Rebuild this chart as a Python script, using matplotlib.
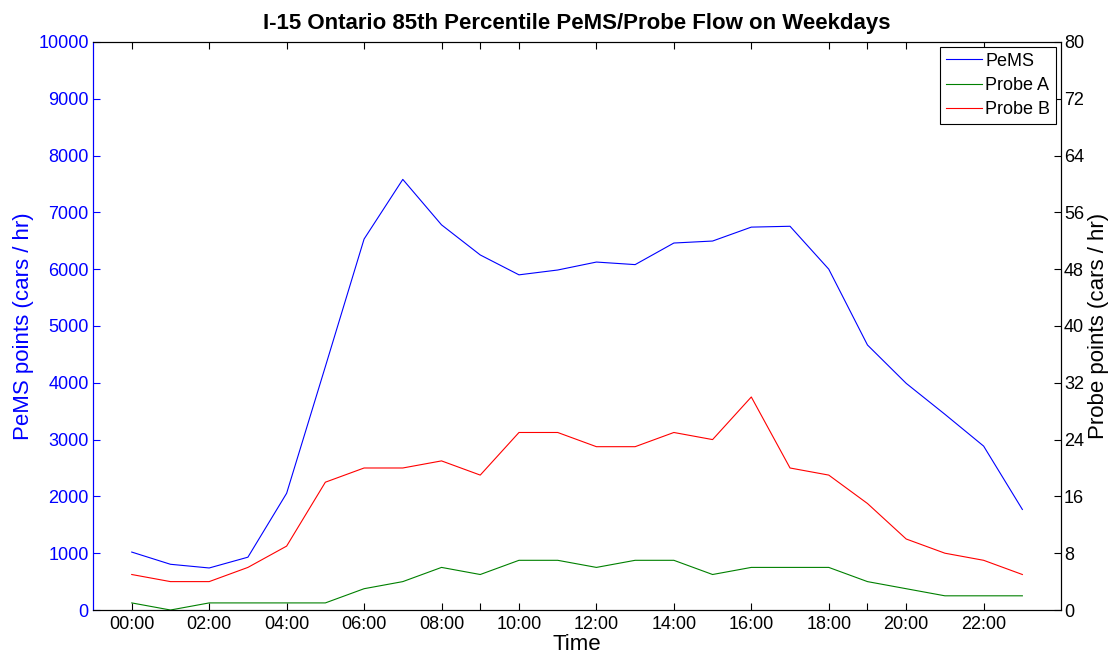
import matplotlib
matplotlib.use('Agg')
import matplotlib.pyplot as plt

plt.rcParams['font.family'] = ['Liberation Sans', 'DejaVu Sans']

hours = list(range(24))
pems = [1020, 805, 740, 930, 2055, 4285, 6530, 7580, 6780, 6250, 5900, 5985,
        6125, 6080, 6460, 6495, 6740, 6755, 6000, 4665, 3990, 3445, 2885, 1770]
probe_a = [1, 0, 1, 1, 1, 1, 3, 4, 6, 5, 7, 7, 6, 7, 7, 5, 6, 6, 6, 4, 3, 2, 2, 2]
probe_b = [5, 4, 4, 6, 9, 18, 20, 20, 21, 19, 25, 25, 23, 23, 25, 24, 30, 20, 19, 15, 10, 8, 7, 5]

tick_hours = [0, 2, 4, 6, 8, 9, 10, 12, 14, 16, 18, 19, 20, 22]
tick_labels = ['' if h in (9, 19) else f'{h:02d}:00' for h in tick_hours]

fig = plt.figure(figsize=(11.14, 6.56), dpi=100)
ax = fig.add_axes([0.0835, 0.0701, 0.869, 0.866])
ax2 = ax.twinx()

l1, = ax.plot(hours, pems, color='#0000ff', lw=0.8, label='PeMS')
l2, = ax2.plot(hours, probe_a, color='#008000', lw=0.8, label='Probe A')
l3, = ax2.plot(hours, probe_b, color='#ff0000', lw=0.8, label='Probe B')

ax.set_xlim(-1, 24)
ax.set_ylim(0, 10000)
ax2.set_ylim(0, 80)
ax.set_yticks(range(0, 10001, 1000))
ax2.set_yticks(range(0, 81, 8))
ax.set_xticks(tick_hours)
ax.set_xticklabels(tick_labels)

ax.tick_params(axis='y', direction='in', colors='#0000ff', labelsize=13, length=5, pad=3)
ax.tick_params(axis='x', direction='in', top=True, labelsize=13, length=5, pad=4)
ax2.tick_params(axis='y', direction='in', labelsize=13, length=5, pad=2)
ax.spines['left'].set_color('#0000ff')
ax2.spines['left'].set_color('#0000ff')

ax.set_ylabel('PeMS points (cars / hr)', color='#0000ff', fontsize=16, labelpad=3)
ax2.set_ylabel('Probe points (cars / hr)', fontsize=16, labelpad=3)
ax.set_xlabel('Time', fontsize=16, labelpad=1)
ax.set_title('I-15 Ontario 85th Percentile PeMS/Probe Flow on Weekdays',
             fontsize=16, fontweight='bold', pad=9)

leg = ax2.legend(handles=[l1, l2, l3], loc='upper right', fontsize=13,
                 fancybox=False, framealpha=1, edgecolor='black',
                 borderaxespad=0.3, handlelength=2.0, borderpad=0.3, labelspacing=0.4,
                 handletextpad=0.2)
leg.get_frame().set_linewidth(0.8)

fig.savefig('out.png', dpi=100)
